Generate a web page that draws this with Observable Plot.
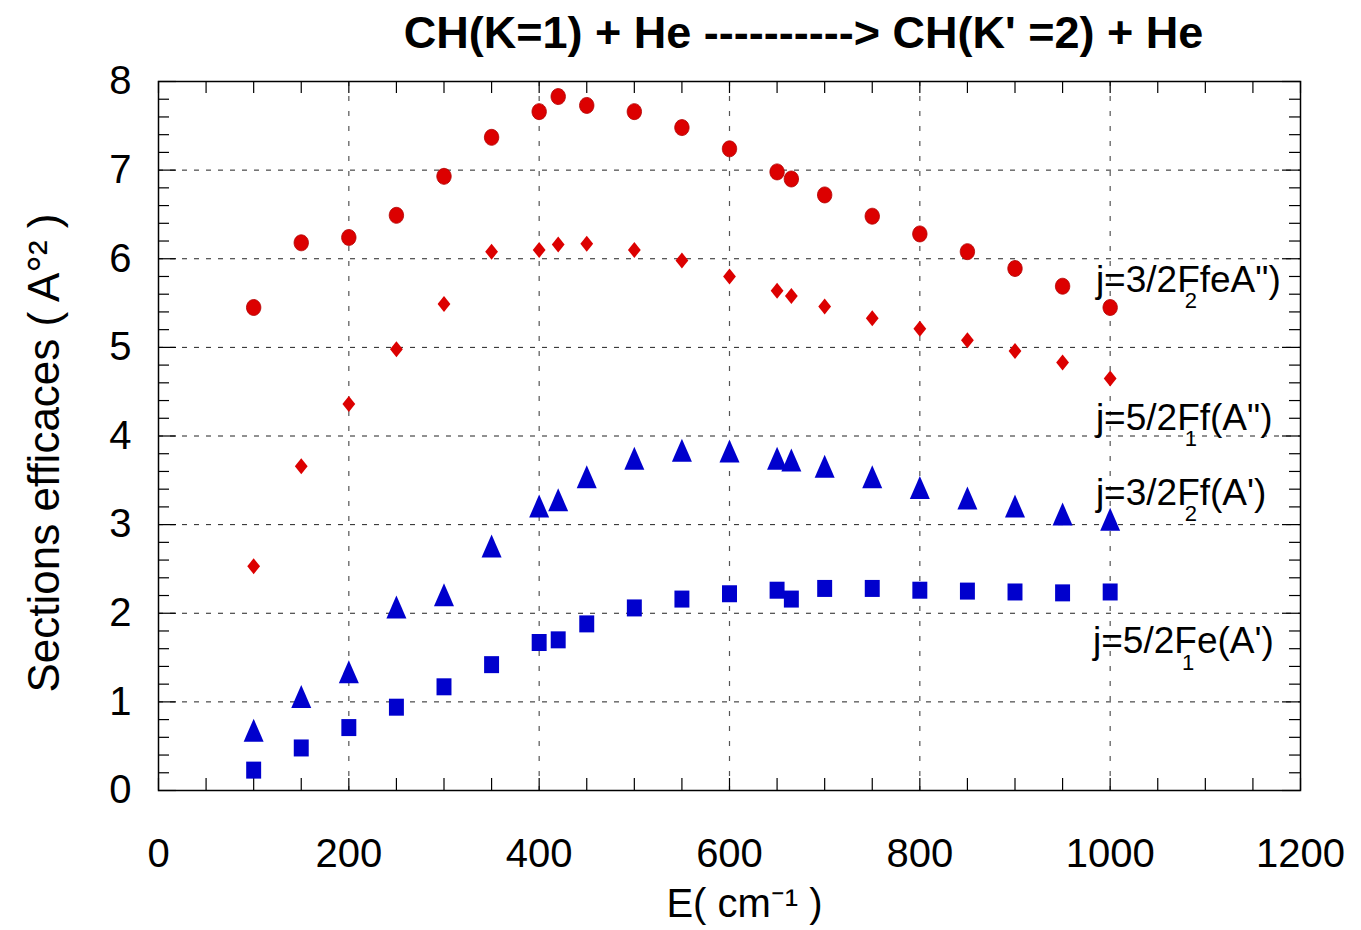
<!DOCTYPE html>
<html>
<head>
<meta charset="utf-8">
<script src="https://cdn.jsdelivr.net/npm/d3@7"></script>
<script src="https://cdn.jsdelivr.net/npm/@observablehq/plot@0.6"></script>
<style>
  html, body { margin: 0; padding: 0; background: #fff; }
  #chart svg { display: block; }
</style>
</head>
<body>
<div id="chart"></div>
<script>
// Collision energies (cm^-1)
const energy = [100, 150, 200, 250, 300, 350, 400, 420, 450, 500, 550, 600, 650, 665, 700, 750, 800, 850, 900, 950, 1000];

// Cross sections (A°^2) for each final state
const j32F2feApp = [5.45, 6.18, 6.24, 6.49, 6.93, 7.37, 7.66, 7.83, 7.73, 7.66, 7.48, 7.24, 6.98, 6.90, 6.72, 6.48, 6.28, 6.08, 5.89, 5.69, 5.45];
const j52F1fApp  = [2.53, 3.66, 4.36, 4.98, 5.49, 6.08, 6.10, 6.16, 6.17, 6.10, 5.98, 5.80, 5.64, 5.58, 5.46, 5.33, 5.21, 5.08, 4.96, 4.83, 4.65];
const j32F2fAp   = [0.68, 1.06, 1.34, 2.07, 2.21, 2.76, 3.21, 3.28, 3.54, 3.75, 3.84, 3.83, 3.75, 3.73, 3.66, 3.54, 3.42, 3.30, 3.21, 3.12, 3.06];
const j52F1eAp   = [0.23, 0.48, 0.71, 0.94, 1.17, 1.42, 1.67, 1.70, 1.88, 2.06, 2.16, 2.22, 2.26, 2.16, 2.28, 2.28, 2.26, 2.25, 2.24, 2.23, 2.24];

// Series labels (main text + subscript drawn under the F)
const seriesText = ["j=3/2FfeA\")", "j=5/2Ff(A\")", "j=3/2Ff(A')", "j=5/2Fe(A')"];
const seriesSub  = ["2", "1", "2", "1"];

// Axis tick labels
const xTickLabels = [0, 200, 400, 600, 800, 1000, 1200];
const yTickLabels = [0, 1, 2, 3, 4, 5, 6, 7, 8];

const titleText = "CH(K=1) + He ----------> CH(K' =2) + He";
const yTitle = "Sections efficaces ( A°² )";
const xTitle = "E( cm⁻¹ )";

// Label anchors in data coordinates
const labelAnchors = [
  {x: 985, y: 5.76},
  {x: 985, y: 4.20},
  {x: 985, y: 3.36},
  {x: 982, y: 1.68}
];

// ---- layout ----
const W = 1361, H = 930;
const mL = 158, mR = 61, mT = 81, mB = 140;
const plotW = W - mL - mR, plotH = H - mT - mB;
const RED = "#dc0000", BLUE = "#0000cd";
const FONT = "'Liberation Sans', Arial, Helvetica, sans-serif";

// Marker shapes (slightly taller than wide); r is the half height
const ovalSym = {draw(ctx, size) {
  const r = Math.sqrt(size / Math.PI), rx = r * 0.9, k = 0.5523;
  ctx.moveTo(rx, 0);
  ctx.bezierCurveTo(rx, r * k, rx * k, r, 0, r);
  ctx.bezierCurveTo(-rx * k, r, -rx, r * k, -rx, 0);
  ctx.bezierCurveTo(-rx, -r * k, -rx * k, -r, 0, -r);
  ctx.bezierCurveTo(rx * k, -r, rx, -r * k, rx, 0);
  ctx.closePath();
}};
const diamondSym = {draw(ctx, size) {
  const r = Math.sqrt(size / Math.PI), w = r * 0.8;
  ctx.moveTo(0, -r); ctx.lineTo(w, 0); ctx.lineTo(0, r); ctx.lineTo(-w, 0); ctx.closePath();
}};
const triangleSym = {draw(ctx, size) {
  const r = Math.sqrt(size / Math.PI), w = r * 0.87;
  ctx.moveTo(0, -r); ctx.lineTo(w, r); ctx.lineTo(-w, r); ctx.closePath();
}};
const squareSym = {draw(ctx, size) {
  const r = Math.sqrt(size / Math.PI), w = r * 0.88;
  ctx.moveTo(-w, -r); ctx.lineTo(w, -r); ctx.lineTo(w, r); ctx.lineTo(-w, r); ctx.closePath();
}};

const pts = (ys) => energy.map((e, i) => ({e, v: ys[i]}));

// Tick positions
const xMinor = d3.range(0, 1201, 50);
const yAll = d3.range(0, 41).map(i => i / 5);
const yMajor = yAll.filter((d, i) => i % 5 === 0);
const yMinor = yAll.filter((d, i) => i % 5 !== 0);

const labels = seriesText.map((t, i) => ({...labelAnchors[i], t, s: seriesSub[i]}));

const chart = Plot.plot({
  width: W, height: H,
  marginLeft: mL, marginRight: mR, marginTop: mT, marginBottom: mB,
  style: {fontFamily: FONT, background: "#fff", overflow: "visible"},
  x: {domain: [0, 1200], axis: null},
  y: {domain: [0, 8], axis: null},
  marks: [
    // dashed grid
    Plot.ruleX([200, 400, 600, 800, 1000], {stroke: "#555", strokeWidth: 1.2, strokeDasharray: "5,10"}),
    Plot.ruleY([1, 2, 3, 4, 5, 6, 7], {stroke: "#222", strokeWidth: 1, strokeDasharray: "5,7"}),
    // inward ticks: bottom, top
    Plot.ruleX(xMinor, {stroke: "#000", strokeWidth: 1.2, insetTop: plotH - 12}),
    Plot.ruleX(xMinor, {stroke: "#000", strokeWidth: 1.2, insetBottom: plotH - 12}),
    // inward ticks: left, right
    Plot.ruleY(yMajor, {stroke: "#000", strokeWidth: 1.2, insetRight: plotW - 18}),
    Plot.ruleY(yMinor, {stroke: "#000", strokeWidth: 1.2, insetRight: plotW - 11}),
    Plot.ruleY(yMajor, {stroke: "#000", strokeWidth: 1.2, insetLeft: plotW - 18}),
    Plot.ruleY(yMinor, {stroke: "#000", strokeWidth: 1.2, insetLeft: plotW - 11}),
    Plot.frame({stroke: "#000", strokeWidth: 1.5}),
    // tick labels
    Plot.text(xTickLabels, {x: d => d, frameAnchor: "bottom", dy: 64, text: d => String(d),
      fontSize: 40, fill: "#000", textAnchor: "middle", lineAnchor: "middle"}),
    Plot.text(yTickLabels, {y: d => d, frameAnchor: "left", dx: -27, text: d => String(d),
      fontSize: 40, fill: "#000", textAnchor: "end", lineAnchor: "middle"}),
    // data
    Plot.dot(pts(j32F2feApp), {x: "e", y: "v", symbol: ovalSym, r: 8, fill: RED, stroke: "#b00000", strokeWidth: 0.8}),
    Plot.dot(pts(j52F1fApp), {x: "e", y: "v", symbol: diamondSym, r: 8, fill: RED}),
    Plot.dot(pts(j32F2fAp), {x: "e", y: "v", symbol: triangleSym, r: 11.5, fill: BLUE}),
    Plot.dot(pts(j52F1eAp), {x: "e", y: "v", symbol: squareSym, r: 8.5, fill: BLUE}),
    // series labels
    Plot.text(labels, {x: "x", y: "y", text: "t", textAnchor: "start", lineAnchor: "middle",
      fontSize: 37, fill: "#000"}),
    Plot.text(labels, {x: "x", y: "y", text: "s", textAnchor: "middle", lineAnchor: "middle",
      dx: 95, dy: 21, fontSize: 22, fill: "#000"}),
    // titles
    Plot.text([titleText], {frameAnchor: "top", dx: 74, dy: -48, fontSize: 45, fontWeight: "bold",
      fill: "#000", textAnchor: "middle", lineAnchor: "middle"}),
    Plot.text([yTitle], {frameAnchor: "left", dx: -114, dy: 17, rotate: -90, fontSize: 44,
      fill: "#000", textAnchor: "middle", lineAnchor: "middle"}),
    Plot.text([xTitle], {frameAnchor: "bottom", dx: 15, dy: 114, fontSize: 40,
      fill: "#000", textAnchor: "middle", lineAnchor: "middle"})
  ]
});

document.getElementById("chart").appendChild(chart);
</script>
</body>
</html>
